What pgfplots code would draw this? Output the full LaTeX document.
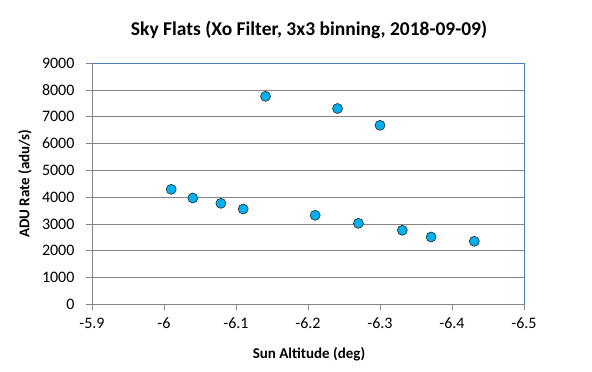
\documentclass[border=0pt]{standalone}
\usepackage{fontspec}
\setmainfont{Carlito}
\usepackage{pgfplots}
\pgfplotsset{compat=1.18}
\definecolor{gridgray}{RGB}{134,134,134}
\definecolor{borderblue}{RGB}{74,126,187}
\definecolor{markcyan}{RGB}{0,176,240}
\begin{document}
\begin{tikzpicture}[x=1pt,y=1pt]
\useasboundingbox (-92,-67.8) rectangle (500,304.2);
\begin{axis}[
  at={(0,0)}, anchor=south west,
  scale only axis, width=432pt, height=240.9pt,
  x dir=reverse,
  xmin=-6.5, xmax=-5.9, ymin=0, ymax=9000,
  xtick={-5.9,-6,-6.1,-6.2,-6.3,-6.4,-6.5},
  xticklabels={-5.9,-6,-6.1,-6.2,-6.3,-6.4,-6.5},
  ytick={0,1000,...,9000},
  yticklabels={0,1000,2000,3000,4000,5000,6000,7000,8000,9000},
  ymajorgrids, major grid style={gridgray, line width=0.75pt},
  axis line style={draw=none},
  tick style={gridgray, line width=0.75pt},
  tick align=outside, major tick length=6pt,
  xtick pos=bottom, ytick pos=left,
  tick label style={font=\fontsize{16}{18}\selectfont, text=black},
  xticklabel style={yshift=-4pt},
  yticklabel style={xshift=-8pt},
  clip=false,
]
\addplot[only marks, mark=*, mark size=5pt, mark options={fill=markcyan, draw=black!85, line width=0.6pt}]
coordinates {
(-6.010,4292) (-6.040,3967) (-6.079,3769) (-6.110,3556) (-6.141,7766)
(-6.210,3321) (-6.241,7311) (-6.270,3022) (-6.300,6683) (-6.331,2761)
(-6.371,2510) (-6.431,2350)
};
\draw[gridgray, line width=0.75pt] (rel axis cs:0,1) -- (rel axis cs:0,0) -- (rel axis cs:1,0);
\draw[borderblue, line width=0.75pt] (rel axis cs:0,1) -- (rel axis cs:1,1) -- (rel axis cs:1,0);
\end{axis}
\node[font=\fontsize{19.5}{23}\selectfont\bfseries] at (217,274.2) {Sky Flats (Xo Filter, 3x3 binning, 2018-09-09)};
\node[font=\fontsize{15}{18}\selectfont\bfseries] at (217,-49.8) {Sun Altitude (deg)};
\node[font=\fontsize{15}{18}\selectfont\bfseries, rotate=90] at (-67,120.5) {ADU Rate (adu/s)};
\end{tikzpicture}
\end{document}
